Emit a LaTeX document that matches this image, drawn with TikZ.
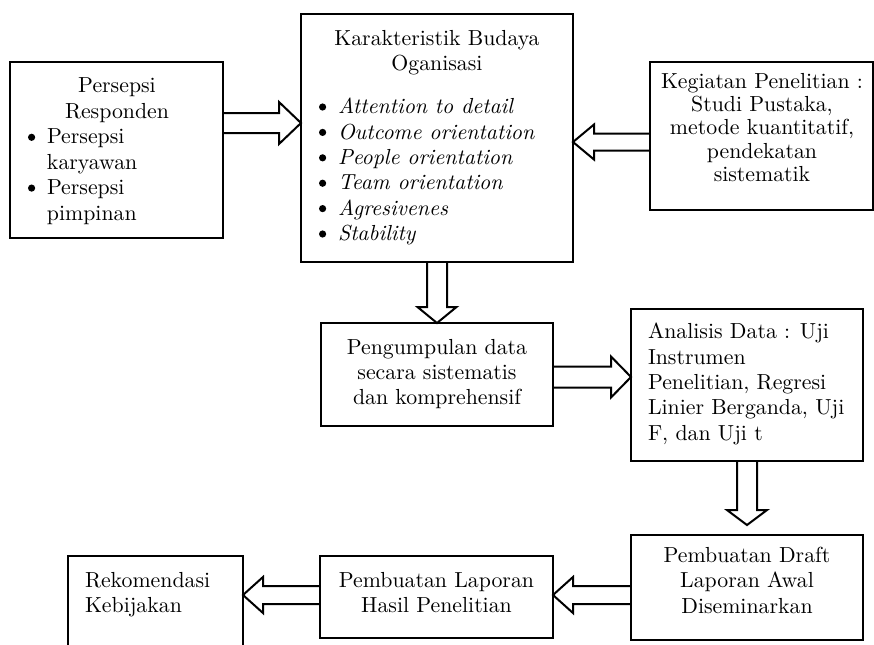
\documentclass[tikz,border=0pt]{standalone}
\usepackage{fontspec}
\usetikzlibrary{calc}
\tikzset{
  box/.style={draw, line width=1pt, inner sep=0pt, outer sep=0pt},
  txt/.style={inner sep=0pt, outer sep=0pt, font=\fontsize{10.9pt}{12.7pt}\selectfont},
  blk/.style={draw, line width=1pt, line join=miter}
}
% horizontal block arrow: from, tip, back offset, shaft half, head half
\newcommand\harrow[5]{%
  \draw[blk] ($(#1)+(0,-#4)$) -- ($(#2)+(#3,-#4)$) -- ($(#2)+(#3,-#5)$) -- (#2)
    -- ($(#2)+(#3,#5)$) -- ($(#2)+(#3,#4)$) -- ($(#1)+(0,#4)$);}
% vertical block arrow
\newcommand\varrow[5]{%
  \draw[blk] ($(#1)+(-#4,0)$) -- ($(#2)+(-#4,#3)$) -- ($(#2)+(-#5,#3)$) -- (#2)
    -- ($(#2)+(#5,#3)$) -- ($(#2)+(#4,#3)$) -- ($(#1)+(#4,0)$);}
\newcommand\bul{\makebox[9.5pt][l]{\raisebox{1.5pt}{\tikz\fill (0,0) circle (1.8pt);}}}
\newcommand\ind{\hspace*{9.5pt}}
\begin{document}
\begin{tikzpicture}[x=0.5pt,y=-0.5pt]
\clip (0,0) rectangle (874,644);
% boxes
\node[box, minimum width=106.5pt, minimum height=88pt] (resp) at (116.5,150) {};
\node[box, minimum width=136pt, minimum height=124pt] (kar) at (437,138) {};
\node[box, minimum width=111.5pt, minimum height=74pt] (keg) at (761.5,136) {};
\node[box, minimum width=116pt, minimum height=51.5pt] (peng) at (437,374.5) {};
\node[box, minimum width=116pt, minimum height=76pt] (anl) at (747,385) {};
\node[box, minimum width=116pt, minimum height=52.5pt] (draft) at (747,587.5) {};
\node[box, minimum width=116.5pt, minimum height=41pt] (lap) at (436.5,597) {};
\node[box, minimum width=87.5pt, minimum height=48pt] (rek) at (155.5,604) {};
% texts
\node[txt, anchor=north, align=center] (respT) at (117,78) {Persepsi\\Responden};
\node[txt, anchor=north west, align=left] (respL) at (28,129)
  {\bul Persepsi\\\ind karyawan\\\bul Persepsi\\\ind pimpinan};
\node[txt, anchor=north, align=center] (karT) at (437,30) {Karakteristik Budaya\\Oganisasi};
\node[txt, anchor=north west, align=left] (karL) at (319,98)
  {\bul\textit{Attention to detail}\\\bul\textit{Outcome orientation}\\\bul\textit{People orientation}\\
   \bul\textit{Team orientation}\\\bul\textit{Agresivenes}\\\bul\textit{Stability}};
\node[txt, anchor=north, align=center, font=\fontsize{10.9pt}{11.7pt}\selectfont] (kegT) at (762,73)
  {Kegiatan Penelitian :\\Studi Pustaka,\\metode kuantitatif,\\pendekatan\\sistematik};
\node[txt, anchor=north, align=center] (pengT) at (437,339)
  {Pengumpulan data\\secara sistematis\\dan komprehensif};
\node[txt, anchor=north west, align=left] (anlT) at (648,323)
  {Analisis Data : Uji\\Instrumen\\Penelitian, Regresi\\Linier Berganda, Uji\\F, dan Uji t};
\node[txt, anchor=north, align=center] (draftT) at (747,547)
  {Pembuatan Draft\\Laporan Awal\\Diseminarkan};
\node[txt, anchor=north, align=center] (lapT) at (436.5,572)
  {Pembuatan Laporan\\Hasil Penelitian};
\node[txt, anchor=north west, align=left] (rekT) at (85,572)
  {Rekomendasi\\Kebijakan};
% arrow end points
\coordinate (a1s) at (resp.east |- 0,123);
\coordinate (a1e) at (kar.west |- 0,123);
\coordinate (a2s) at (keg.west |- 0,142);
\coordinate (a2e) at (kar.east |- 0,142);
\coordinate (a4s) at (peng.east |- 0,377);
\coordinate (a4e) at (anl.west |- 0,377);
\coordinate (a5e) at ($(draft.north)+(0,-10)$);
\coordinate (a6s) at (draft.west |- 0,595);
\coordinate (a6e) at (lap.east |- 0,595);
\coordinate (a7s) at (lap.west |- 0,595);
\coordinate (a7e) at (rek.east |- 0,595);
% arrows
\harrow{a1s}{a1e}{-22}{10}{21}
\harrow{a2s}{a2e}{21}{8.5}{17.5}
\varrow{kar.south}{peng.north}{-16}{10}{19.5}
\harrow{a4s}{a4e}{-20}{10.5}{20.5}
\varrow{anl.south}{a5e}{-15}{10}{20}
\harrow{a6s}{a6e}{20}{9}{18}
\harrow{a7s}{a7e}{20}{9}{18}
\end{tikzpicture}
\end{document}
